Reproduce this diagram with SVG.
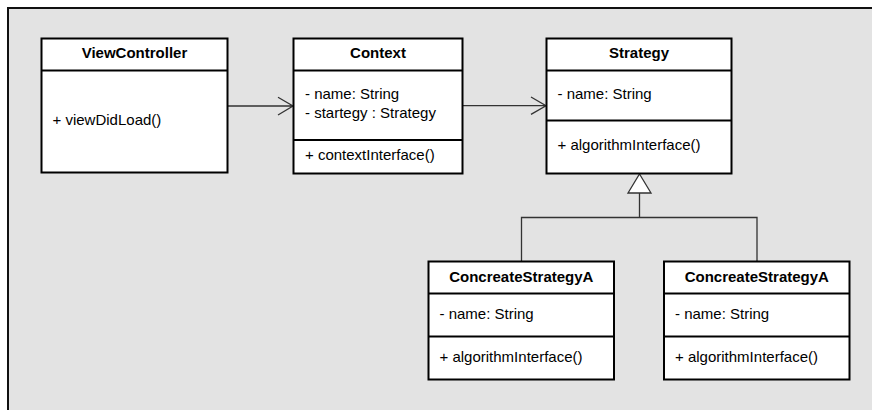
<svg xmlns="http://www.w3.org/2000/svg" width="872" height="410" viewBox="0 0 872 410">
<style>
.box{fill:#fff;stroke:#000;stroke-width:2}
.sep{stroke:#000;stroke-width:2}
.t{font-family:"Liberation Sans",Arial,sans-serif;font-size:15px;fill:#000}
.b{font-weight:bold;text-anchor:middle}
.c{fill:none;stroke:#333;stroke-width:1.3}
</style>
<rect x="0" y="0" width="872" height="410" fill="#fff"/>
<rect x="8" y="8" width="880" height="420" fill="#e3e3e3" stroke="#111" stroke-width="2"/>
<g id="connectors">
<path class="c" d="M227.5 106H293M278 97.3L293 106L278 115"/>
<path class="c" d="M462.5 105.7H546M531 97L546 105.7L531 114.4"/>
<path class="c" d="M639.5 193V217.5M521.5 261.5V217.5H757V261.5"/>
<polygon points="639.5,174 651,193 628,193" fill="#fff" stroke="#333" stroke-width="1.3"/>
</g>
<g id="ViewController">
<rect class="box" x="41.5" y="38.5" width="186" height="134"/>
<line class="sep" x1="41.5" y1="70.5" x2="227.5" y2="70.5"/>
<text class="t b" x="134.5" y="58">ViewController</text>
<text class="t" x="52.5" y="125">+ viewDidLoad()</text>
</g>
<g id="Context">
<rect class="box" x="293.5" y="38.5" width="169" height="135"/>
<line class="sep" x1="293.5" y1="70.5" x2="462.5" y2="70.5"/>
<line class="sep" x1="293.5" y1="140" x2="462.5" y2="140"/>
<text class="t b" x="378" y="58">Context</text>
<text class="t" x="305" y="99">- name: String</text>
<text class="t" x="305" y="117.5">- startegy : Strategy</text>
<text class="t" x="305" y="160">+ contextInterface()</text>
</g>
<g id="Strategy">
<rect class="box" x="546.5" y="38.5" width="185" height="135"/>
<line class="sep" x1="546.5" y1="70.5" x2="731.5" y2="70.5"/>
<line class="sep" x1="546.5" y1="120.5" x2="731.5" y2="120.5"/>
<text class="t b" x="639" y="57.5">Strategy</text>
<text class="t" x="557.5" y="98.5">- name: String</text>
<text class="t" x="557.5" y="150">+ algorithmInterface()</text>
</g>
<g id="ConcreteStrategyA1">
<rect class="box" x="428.5" y="261.5" width="185.5" height="118"/>
<line class="sep" x1="428.5" y1="293.5" x2="614" y2="293.5"/>
<line class="sep" x1="428.5" y1="336.5" x2="614" y2="336.5"/>
<text class="t b" x="521.3" y="282">ConcreateStrategyA</text>
<text class="t" x="439.5" y="318.5">- name: String</text>
<text class="t" x="439.5" y="362">+ algorithmInterface()</text>
</g>
<g id="ConcreteStrategyA2">
<rect class="box" x="664" y="261.5" width="185.5" height="118"/>
<line class="sep" x1="664" y1="293.5" x2="849.5" y2="293.5"/>
<line class="sep" x1="664" y1="336.5" x2="849.5" y2="336.5"/>
<text class="t b" x="756.8" y="282">ConcreateStrategyA</text>
<text class="t" x="675" y="318.5">- name: String</text>
<text class="t" x="675" y="362">+ algorithmInterface()</text>
</g>
</svg>
